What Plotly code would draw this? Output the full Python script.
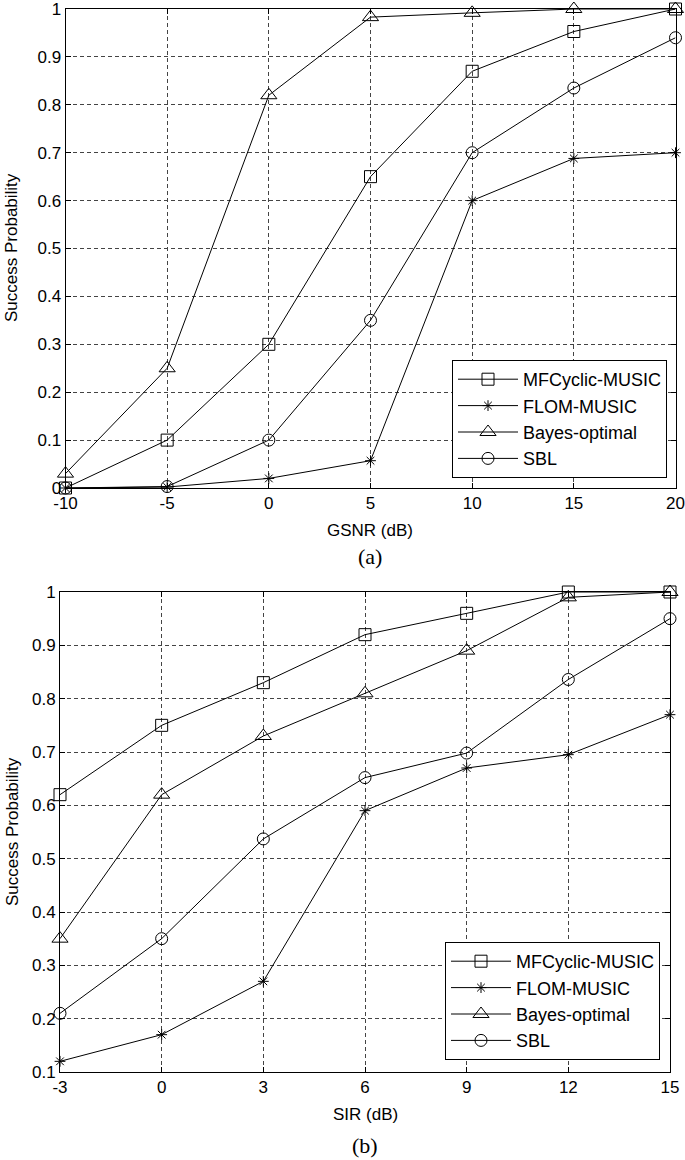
import plotly.graph_objects as go

# (a) success probability vs GSNR
gsnr = [-10, -5, 0, 5, 10, 15, 20]
a_mfcyclic = [0.0, 0.10, 0.30, 0.65, 0.87, 0.953, 1.0]
a_flom = [0.0, 0.002, 0.02, 0.057, 0.60, 0.688, 0.70]
a_bayes = [0.03, 0.25, 0.82, 0.983, 0.992, 1.0, 1.0]
a_sbl = [0.0, 0.003, 0.10, 0.35, 0.70, 0.835, 0.94]

# (b) success probability vs SIR
sir = [-3, 0, 3, 6, 9, 12, 15]
b_mfcyclic = [0.62, 0.75, 0.83, 0.92, 0.96, 1.0, 1.0]
b_flom = [0.12, 0.17, 0.27, 0.59, 0.67, 0.695, 0.77]
b_bayes = [0.35, 0.62, 0.73, 0.81, 0.89, 0.99, 1.0]
b_sbl = [0.21, 0.35, 0.537, 0.652, 0.698, 0.836, 0.95]

# tick labels (plain hyphen minus, as in the figure)
a_yticks = [0, 0.1, 0.2, 0.3, 0.4, 0.5, 0.6, 0.7, 0.8, 0.9, 1]
a_ylabels = ["0", "0.1", "0.2", "0.3", "0.4", "0.5", "0.6", "0.7", "0.8", "0.9", "1"]
b_yticks = [0.1, 0.2, 0.3, 0.4, 0.5, 0.6, 0.7, 0.8, 0.9, 1]
b_ylabels = ["0.1", "0.2", "0.3", "0.4", "0.5", "0.6", "0.7", "0.8", "0.9", "1"]
a_xlabels = ["-10", "-5", "0", "5", "10", "15", "20"]
b_xlabels = ["-3", "0", "3", "6", "9", "12", "15"]

names = ["MFCyclic-MUSIC", "FLOM-MUSIC", "Bayes-optimal", "SBL"]
symbols = ["square-open", "asterisk-open", "triangle-up-open", "circle-open"]
sizes = [12, 9, 14, 12]

W, H = 685, 1160
FONT = "Liberation Sans, Arial, sans-serif"
SERIF = "Liberation Serif, Times New Roman, serif"

fig = go.Figure()

for series, name, sym, size in zip([a_mfcyclic, a_flom, a_bayes, a_sbl], names, symbols, sizes):
    fig.add_trace(go.Scatter(
        x=gsnr, y=series, name=name, mode="lines+markers",
        line=dict(color="black", width=1),
        marker=dict(symbol=sym, size=size, color="black", line=dict(color="black", width=1)),
        cliponaxis=False, xaxis="x", yaxis="y", legend="legend",
    ))

for series, name, sym, size in zip([b_mfcyclic, b_flom, b_bayes, b_sbl], names, symbols, sizes):
    fig.add_trace(go.Scatter(
        x=sir, y=series, name=name, mode="lines+markers",
        line=dict(color="black", width=1),
        marker=dict(symbol=sym, size=size, color="black", line=dict(color="black", width=1)),
        cliponaxis=False, xaxis="x2", yaxis="y2", legend="legend2",
    ))

axis_style = dict(
    showline=True, linecolor="black", linewidth=1, mirror="ticks",
    ticks="inside", ticklen=5, tickcolor="black",
    showgrid=True, gridcolor="#444444", gridwidth=1, griddash="4px,3px",
    zeroline=False, automargin=False, ticklabeloverflow="allow",
    tickfont=dict(family=FONT, size=17, color="black"),
)

legend_style = dict(
    font=dict(family=FONT, size=18, color="black"),
    bgcolor="white", bordercolor="black", borderwidth=1,
    xanchor="right", yanchor="bottom", itemwidth=60,
    tracegroupgap=0,
)

fig.update_layout(
    width=W, height=H,
    margin=dict(l=0, r=0, t=0, b=0),
    paper_bgcolor="white", plot_bgcolor="white",
    font=dict(family=FONT, size=16, color="black"),
    showlegend=True,
    xaxis=dict(domain=[65.5 / W, 675.5 / W], range=[-10, 20], tickvals=gsnr, ticktext=a_xlabels,
               anchor="y", **axis_style),
    yaxis=dict(domain=[1 - 488 / H, 1 - 9 / H], range=[0, 1], tickvals=a_yticks, ticktext=a_ylabels,
               anchor="x", **axis_style),
    xaxis2=dict(domain=[60 / W, 670 / W], range=[-3, 15], tickvals=sir, ticktext=b_xlabels,
                anchor="y2", **axis_style),
    yaxis2=dict(domain=[1 - 1072 / H, 1 - 592 / H], range=[0.1, 1], tickvals=b_yticks, ticktext=b_ylabels,
                anchor="x2", **axis_style),
    legend=dict(x=667 / W, y=1 - 478 / H, **legend_style),
    legend2=dict(x=660 / W, y=1 - 1060 / H, **legend_style),
)

labels = [
    ("GSNR (dB)", 370, 530, 0, FONT, 17),
    ("(a)", 370, 556, 0, SERIF, 22),
    ("Success Probability", 12, 248, -90, FONT, 17),
    ("SIR (dB)", 365, 1114, 0, FONT, 17),
    ("(b)", 365, 1145, 0, SERIF, 22),
    ("Success Probability", 12, 832, -90, FONT, 17),
]
for text, px, py, ang, fam, fs in labels:
    fig.add_annotation(
        text=text, x=px / W, y=1 - py / H, xref="paper", yref="paper",
        showarrow=False, textangle=ang, xanchor="center", yanchor="middle",
        font=dict(family=fam, size=fs, color="black"),
    )

# the page's default body margin would shift the figure by 8px
fig.write_html(
    "out.html",
    config={"displayModeBar": False},
    post_script="document.body.style.margin='0';",
)
